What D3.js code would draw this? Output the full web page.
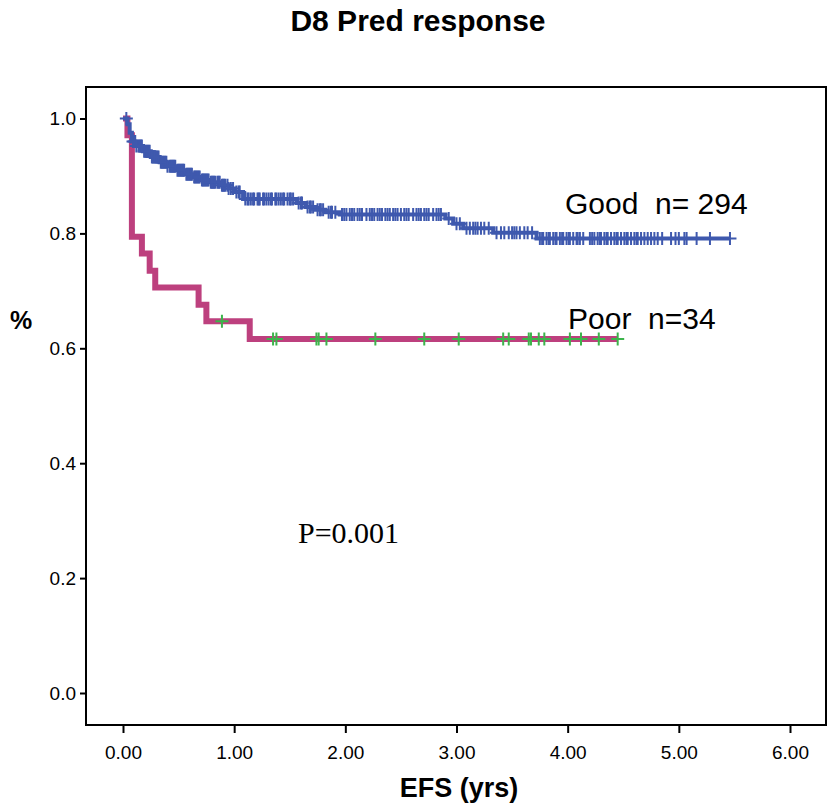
<!DOCTYPE html>
<html>
<head>
<meta charset="utf-8">
<script src="https://cdn.jsdelivr.net/npm/d3@7"></script>
<style>
  body { margin: 0; background: #fff; }
  svg { display: block; font-family: "Liberation Sans", Arial, sans-serif; }
</style>
</head>
<body>
<div id="chart"></div>
<script>
// Kaplan-Meier: EFS by D8 prednisone response

const xTicks = [0, 1, 2, 3, 4, 5, 6];
const yTicks = [0, 0.2, 0.4, 0.6, 0.8, 1.0];

// step curves: [time (yrs), survival]
const goodSteps = [
  [0, 1.0], [0.04, 0.99], [0.06, 0.975], [0.08, 0.96], [0.12, 0.952], [0.18, 0.943],
  [0.25, 0.933], [0.33, 0.924], [0.40, 0.917], [0.48, 0.910], [0.56, 0.903], [0.63, 0.898],
  [0.70, 0.893], [0.78, 0.889], [0.88, 0.884], [0.95, 0.878], [1.00, 0.872], [1.08, 0.860],
  [1.56, 0.853], [1.64, 0.846], [1.73, 0.841], [1.82, 0.837], [1.95, 0.833], [2.90, 0.826],
  [2.97, 0.817], [3.06, 0.809], [3.33, 0.801], [3.72, 0.791]
];
const goodEnd = 5.46;
const goodCensor = [
  0.03, 0.09, 0.10, 0.11, 0.12, 0.14, 0.15, 0.16, 0.17, 0.19, 0.20, 0.21, 0.22, 0.23, 0.24,
  0.26, 0.27, 0.28, 0.29, 0.30, 0.31, 0.32, 0.34, 0.35, 0.36, 0.37, 0.38, 0.39, 0.40, 0.42,
  0.43, 0.44, 0.45, 0.46, 0.47, 0.49, 0.50, 0.51, 0.52, 0.53, 0.54, 0.55, 0.57, 0.58, 0.59,
  0.60, 0.61, 0.62, 0.64, 0.65, 0.66, 0.67, 0.68, 0.69, 0.71, 0.72, 0.73, 0.74, 0.75, 0.76,
  0.77, 0.79, 0.80, 0.81, 0.82, 0.83, 0.85, 0.86, 0.87, 0.89, 0.90, 0.91, 0.92, 0.94, 0.95,
  0.97, 0.99, 1.02, 1.04, 1.05, 1.10, 1.12, 1.13, 1.15, 1.17, 1.18, 1.21, 1.22, 1.23, 1.26,
  1.27, 1.29, 1.31, 1.33, 1.34, 1.37, 1.38, 1.40, 1.42, 1.44, 1.45, 1.48, 1.50, 1.51, 1.53,
  1.58, 1.60, 1.61, 1.66, 1.68, 1.69, 1.71, 1.75, 1.77, 1.78, 1.80, 1.85, 1.87, 1.88, 1.91,
  1.97, 1.99, 2.01, 2.04, 2.06, 2.08, 2.11, 2.13, 2.15, 2.19, 2.22, 2.24, 2.26, 2.29, 2.31,
  2.33, 2.36, 2.38, 2.40, 2.43, 2.45, 2.47, 2.50, 2.53, 2.55, 2.57, 2.61, 2.64, 2.66, 2.68,
  2.71, 2.73, 2.75, 2.79, 2.82, 2.84, 2.86, 2.93, 3.00, 3.03, 3.09, 3.12, 3.15, 3.17, 3.19,
  3.22, 3.25, 3.29, 3.36, 3.40, 3.43, 3.47, 3.50, 3.52, 3.54, 3.57, 3.61, 3.64, 3.68, 3.75,
  3.77, 3.78, 3.81, 3.83, 3.84, 3.87, 3.89, 3.90, 3.93, 3.95, 3.96, 3.99, 4.01, 4.02, 4.05,
  4.08, 4.09, 4.11, 4.14, 4.20, 4.22, 4.24, 4.27, 4.29, 4.30, 4.33, 4.35, 4.36, 4.39, 4.42,
  4.44, 4.45, 4.48, 4.51, 4.53, 4.54, 4.57, 4.60, 4.62, 4.63, 4.66, 4.69, 4.72, 4.75, 4.78,
  4.81, 4.85, 4.93, 4.97, 5.00, 5.05, 5.07, 5.16, 5.28, 5.46
];

const poorSteps = [
  [0, 1.0], [0.04, 0.971], [0.08, 0.794], [0.17, 0.765], [0.24, 0.735], [0.29, 0.706],
  [0.68, 0.676], [0.75, 0.647], [1.14, 0.616]
];
const poorEnd = 4.45;
const poorCensor = [
  0.89, 1.35, 1.38, 1.74, 1.76, 1.83, 2.27, 2.71, 3.02, 3.42, 3.47, 3.65, 3.67, 3.74, 3.79,
  4.02, 4.12, 4.28, 4.45
];

const W = 829, H = 808;
const frame = { left: 86, right: 826, top: 87, bottom: 725 };

const x = d3.scaleLinear().domain([0, 6]).range([123, 790]);
const y = d3.scaleLinear().domain([0, 1]).range([693, 118.5]);

const svg = d3.select('#chart').append('svg')
  .attr('width', W)
  .attr('height', H);

// title
svg.append('text')
  .attr('x', 418).attr('y', 31)
  .attr('text-anchor', 'middle')
  .attr('font-size', 30).attr('font-weight', 700)
  .text('D8 Pred response');

// frame
svg.append('rect')
  .attr('x', frame.left).attr('y', frame.top)
  .attr('width', frame.right - frame.left)
  .attr('height', frame.bottom - frame.top)
  .attr('fill', 'none')
  .attr('stroke', '#000')
  .attr('stroke-width', 2);

// axes
const xAxis = svg.append('g')
  .attr('transform', `translate(0,${frame.bottom})`)
  .call(d3.axisBottom(x).tickValues(xTicks).tickFormat(d3.format('.2f')).tickSize(8).tickSizeOuter(0));
const yAxis = svg.append('g')
  .attr('transform', `translate(${frame.left},0)`)
  .call(d3.axisLeft(y).tickValues(yTicks).tickFormat(d3.format('.1f')).tickSize(6).tickSizeOuter(0));
[xAxis, yAxis].forEach(g => {
  g.select('.domain').remove();
  g.selectAll('line').attr('stroke', '#000').attr('stroke-width', 2);
  g.selectAll('text').attr('font-size', 19).attr('fill', '#000')
    .attr('font-family', '"Liberation Sans", Arial, sans-serif');
});
xAxis.selectAll('text').attr('dy', '1.2em');
yAxis.selectAll('text').attr('x', -10);

// axis titles
svg.append('text')
  .attr('x', 459).attr('y', 797)
  .attr('text-anchor', 'middle')
  .attr('font-size', 27).attr('font-weight', 700)
  .text('EFS (yrs)');
svg.append('text')
  .attr('x', 21).attr('y', 329)
  .attr('text-anchor', 'middle')
  .attr('font-size', 25).attr('font-weight', 700)
  .text('%');

const line = d3.line()
  .x(d => x(d[0]))
  .y(d => y(d[1]))
  .curve(d3.curveStepAfter);

function survAt(steps, t) {
  const i = d3.bisector(d => d[0]).right(steps, t) - 1;
  return steps[Math.max(0, i)][1];
}

function drawCurve(steps, end, censor, color, width, markColor) {
  const pts = steps.concat([[end, steps[steps.length - 1][1]]]);
  svg.append('path')
    .datum(pts)
    .attr('fill', 'none')
    .attr('stroke', color)
    .attr('stroke-width', width)
    .attr('stroke-linejoin', 'miter')
    .attr('d', line);
  const s = 6.5;
  svg.append('g').selectAll('path')
    .data(censor)
    .join('path')
    .attr('d', t => {
      const cx = x(t), cy = y(survAt(steps, t));
      return `M${cx - s},${cy}H${cx + s}M${cx},${cy - s}V${cy + s}`;
    })
    .attr('stroke', markColor)
    .attr('stroke-width', 2)
    .attr('fill', 'none');
}

drawCurve(poorSteps, poorEnd, poorCensor, '#bd407e', 6, '#3cb44b');
drawCurve(goodSteps, goodEnd, goodCensor, '#3f59ae', 4, '#3f59ae');

// labels
svg.append('text')
  .attr('x', 565).attr('y', 214)
  .attr('font-size', 30)
  .attr('xml:space', 'preserve')
  .text('Good  n= 294');
svg.append('text')
  .attr('x', 568).attr('y', 329)
  .attr('font-size', 30)
  .attr('xml:space', 'preserve')
  .text('Poor  n=34');
svg.append('text')
  .attr('x', 298).attr('y', 543)
  .attr('font-size', 30)
  .attr('font-family', '"Liberation Serif", "Times New Roman", serif')
  .text('P=0.001');
</script>
</body>
</html>
